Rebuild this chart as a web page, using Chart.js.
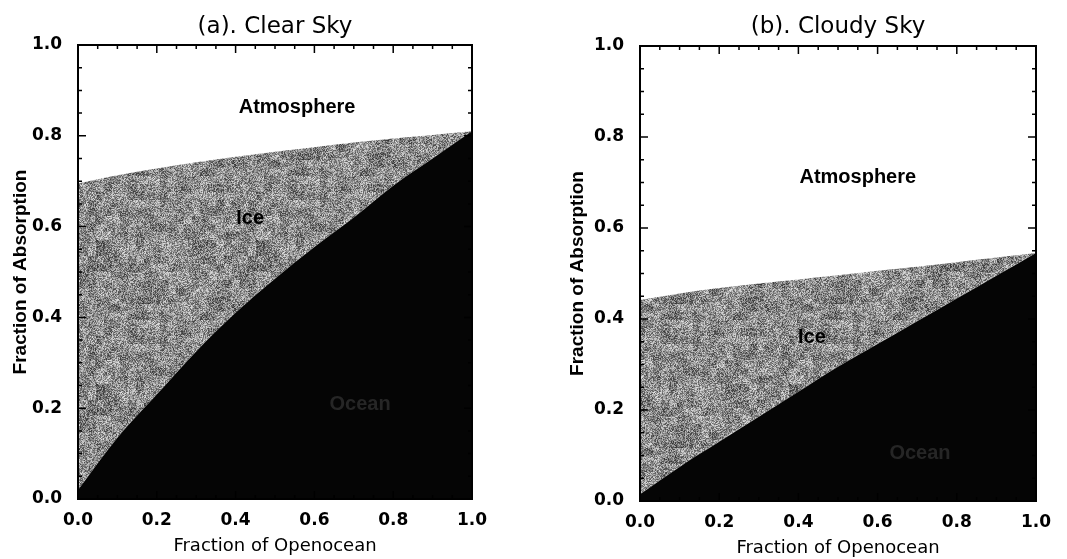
<!DOCTYPE html>
<html>
<head>
    <title>Fraction of Absorption</title>
    <script src="https://cdn.jsdelivr.net/npm/chart.js"></script>
    <style>
        body { margin: 0; background: #fff; }
        canvas { position: absolute; top: 0; }
    </style>
</head>
<body>
    <canvas id="clearChart" width="533" height="559" style="left: 0px"></canvas>
    <canvas id="cloudyChart" width="534" height="559" style="left: 533px"></canvas>
<script>
    // fraction of open ocean (x)
    var openocean = [0.0, 0.1, 0.2, 0.3, 0.4, 0.5, 0.6, 0.7, 0.8, 0.9, 1.0];

    // (a) clear sky: upper edge of ocean band and of ice band
    var clearOcean  = [0.020, 0.135, 0.230, 0.325, 0.410, 0.485, 0.555, 0.620, 0.690, 0.750, 0.810];
    var clearIceTop = [0.695, 0.713, 0.728, 0.742, 0.754, 0.765, 0.775, 0.785, 0.794, 0.802, 0.810];

    // (b) cloudy sky
    var cloudyOcean  = [0.015, 0.075, 0.130, 0.185, 0.240, 0.295, 0.345, 0.395, 0.445, 0.495, 0.545];
    var cloudyIceTop = [0.442, 0.456, 0.468, 0.478, 0.487, 0.496, 0.506, 0.515, 0.525, 0.535, 0.545];

    var majorTicks = [0.0, 0.2, 0.4, 0.6, 0.8, 1.0];

    var clearLabels  = [{text: 'Atmosphere', x: 0.556, y: 0.863}, {text: 'Ice', x: 0.437, y: 0.617}, {text: 'Ocean', x: 0.716, y: 0.208, dim: true}];
    var cloudyLabels = [{text: 'Atmosphere', x: 0.55, y: 0.71}, {text: 'Ice', x: 0.434, y: 0.36}, {text: 'Ocean', x: 0.707, y: 0.105, dim: true}];

    function isMajor(v) {
        return majorTicks.some(function (m) { return Math.abs(m - v) < 1e-6; });
    }

    function hash(i, j, s) {
        var n = Math.imul(i, 374761393) + Math.imul(j, 668265263) + Math.imul(s, 2246822519);
        n = Math.imul(n ^ (n >>> 13), 1274126177);
        return ((n ^ (n >>> 16)) >>> 0) / 4294967296;
    }

    // mottled grey texture for the ice band
    function icePattern() {
        var c = document.createElement('canvas');
        c.width = 160; c.height = 144;
        var g = c.getContext('2d');
        var img = g.createImageData(c.width, c.height);
        for (var j = 0; j < c.height; j++) {
            for (var i = 0; i < c.width; i++) {
                var blob = hash(i >> 3, j >> 3, 7) - 0.5;
                var v = 138 + blob * 50 + (hash(i, j, 1) - 0.5) * 130;
                v = Math.max(30, Math.min(235, v));
                var k = (j * c.width + i) * 4;
                img.data[k] = img.data[k + 1] = img.data[k + 2] = v;
                img.data[k + 3] = 255;
            }
        }
        g.putImageData(img, 0, 0);
        return g.createPattern(c, 'repeat');
    }

    var frameTicks = {
        id: 'frameTicks',
        afterDatasetsDraw: function (chart) {
            var ctx = chart.ctx, a = chart.chartArea, x = chart.scales.x, y = chart.scales.y;
            ctx.save();
            ctx.strokeStyle = '#000';
            ctx.lineWidth = 1.5;
            ctx.beginPath();
            x.ticks.forEach(function (t) {
                var px = x.getPixelForValue(t.value), len = isMajor(t.value) ? 8 : 4;
                ctx.moveTo(px, a.bottom); ctx.lineTo(px, a.bottom - len);
                ctx.moveTo(px, a.top); ctx.lineTo(px, a.top + len);
            });
            y.ticks.forEach(function (t) {
                var py = y.getPixelForValue(t.value), len = isMajor(t.value) ? 8 : 4;
                ctx.moveTo(a.left, py); ctx.lineTo(a.left + len, py);
                ctx.moveTo(a.right, py); ctx.lineTo(a.right - len, py);
            });
            ctx.stroke();
            ctx.lineWidth = 2;
            ctx.strokeRect(a.left, a.top, a.right - a.left, a.bottom - a.top);

            // region names
            var items = chart.options.plugins.frameTicks.items;
            ctx.font = 'bold 20px "Liberation Sans", Arial, sans-serif';
            ctx.textAlign = 'center';
            ctx.textBaseline = 'middle';
            items.forEach(function (it) {
                ctx.fillStyle = it.dim ? '#262626' : '#000';
                ctx.fillText(it.text, x.getPixelForValue(it.x), y.getPixelForValue(it.y));
            });
            ctx.restore();
        }
    };

    function makeChart(id, title, ocean, iceTop, labels, lay) {
        var ctx = document.getElementById(id).getContext('2d');
        return new Chart(ctx, {
            type: 'line',
            data: {
                labels: openocean,
                datasets: [{
                    label: 'Ocean',
                    data: ocean,
                    borderWidth: 0,
                    pointRadius: 0,
                    backgroundColor: '#050505',
                    fill: 'origin',
                    cubicInterpolationMode: 'monotone'
                }, {
                    label: 'Ice',
                    data: iceTop,
                    borderWidth: 0,
                    pointRadius: 0,
                    backgroundColor: icePattern(),
                    fill: '-1',
                    cubicInterpolationMode: 'monotone'
                }]
            },
            options: {
                responsive: false,
                animation: false,
                layout: { padding: { left: 0, right: lay.right, top: 0, bottom: 0 } },
                plugins: {
                    legend: { display: false },
                    tooltip: { enabled: false },
                    title: {
                        display: true,
                        text: title,
                        fullSize: false,
                        color: '#000',
                        font: { family: '"DejaVu Sans", sans-serif', size: 23, weight: 'normal' },
                        padding: { top: lay.titleTop, bottom: lay.titleBottom }
                    },
                    frameTicks: { items: labels }
                },
                scales: {
                    x: {
                        type: 'linear',
                        min: 0, max: 1,
                        grid: { display: false },
                        border: { display: false },
                        afterFit: function (s) { s.height = lay.xHeight; },
                        ticks: {
                            stepSize: 0.05,
                            autoSkip: false,
                            maxRotation: 0,
                            padding: 3,
                            color: '#000',
                            font: { family: '"DejaVu Sans", sans-serif', size: 17, weight: 'bold' },
                            callback: function (v) { return isMajor(v) ? v.toFixed(1) : ''; }
                        },
                        title: {
                            display: true,
                            text: 'Fraction of Openocean',
                            color: '#000',
                            font: { family: '"DejaVu Sans", sans-serif', size: 18, weight: 'normal' },
                            padding: { top: lay.xTitlePad, bottom: lay.xTitlePad }
                        }
                    },
                    y: {
                        min: 0, max: 1,
                        grid: { display: false },
                        border: { display: false },
                        afterFit: function (s) { s.width = lay.yWidth; },
                        ticks: {
                            stepSize: 0.05,
                            autoSkip: false,
                            padding: 8,
                            color: '#000',
                            font: { family: '"DejaVu Sans", sans-serif', size: 17, weight: 'bold' },
                            callback: function (v) { return isMajor(v) ? v.toFixed(1) : ''; }
                        },
                        title: {
                            display: true,
                            text: 'Fraction of Absorption',
                            color: '#000',
                            font: { family: '"Liberation Sans", Arial, sans-serif', size: 19, weight: 'bold' },
                            padding: { top: lay.yTitlePad, bottom: lay.yTitlePad }
                        }
                    }
                }
            },
            plugins: [frameTicks]
        });
    }

    var clearChart = makeChart('clearChart', '(a). Clear Sky', clearOcean, clearIceTop, clearLabels,
        { right: 61, titleTop: 13, titleBottom: 4.4, xHeight: 60, xTitlePad: 2, yWidth: 78, yTitlePad: 9 });
    var cloudyChart = makeChart('cloudyChart', '(b). Cloudy Sky', cloudyOcean, cloudyIceTop, cloudyLabels,
        { right: 31, titleTop: 13, titleBottom: 5.4, xHeight: 58, xTitlePad: 0, yWidth: 107, yTitlePad: 33 });
</script>
</body>
</html>
